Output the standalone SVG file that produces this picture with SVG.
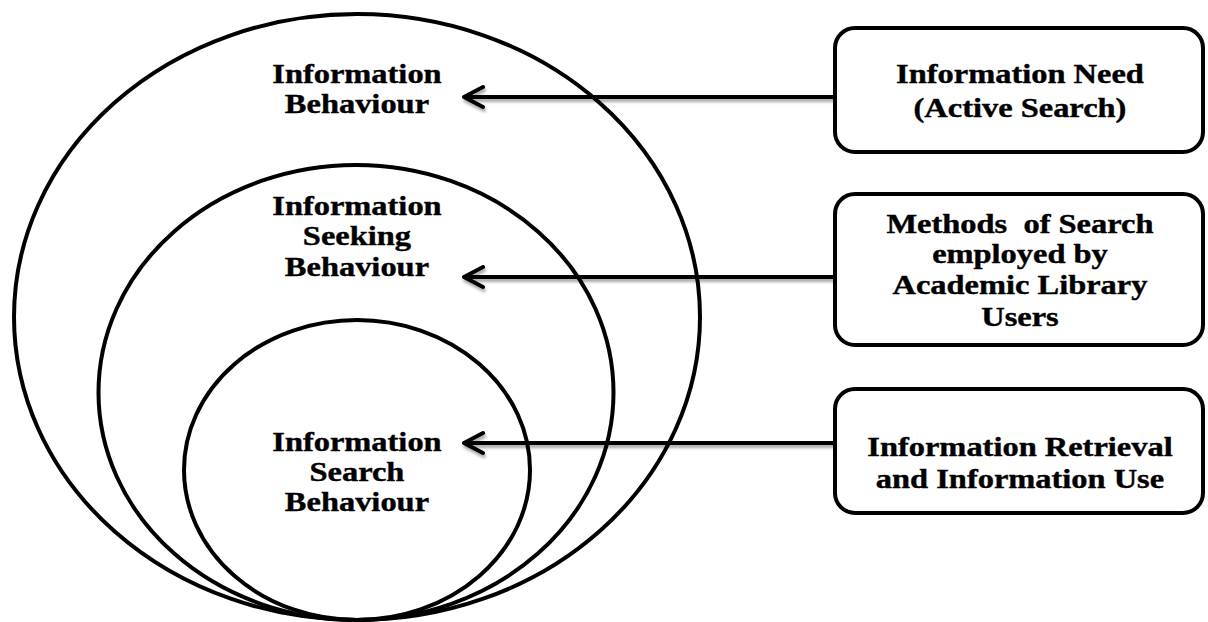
<svg xmlns="http://www.w3.org/2000/svg" width="1208" height="622" viewBox="0 0 1208 622">
<style>
.ring{fill:none;stroke:#000;stroke-width:4}
.box{fill:#fff;stroke:#000;stroke-width:4}
.line{fill:none;stroke:#000;stroke-width:4;stroke-linecap:round;stroke-linejoin:round}
.t{font-family:"Liberation Serif","Times New Roman",serif;font-weight:bold;font-size:27.5px;fill:#000;stroke:#000;stroke-width:0.4;text-anchor:middle}
</style>
<defs>
<filter id="sh" x="-5%" y="-50%" width="110%" height="300%">
<feGaussianBlur in="SourceAlpha" stdDeviation="1.5"/>
<feOffset dx="1" dy="3" result="b"/>
<feComponentTransfer><feFuncA type="linear" slope="0.35"/></feComponentTransfer>
<feMerge><feMergeNode/><feMergeNode in="SourceGraphic"/></feMerge>
</filter>
</defs>
<rect width="1208" height="622" fill="#fff"/>
<g id="ring-behaviour">
<ellipse class="ring" cx="357" cy="317" rx="343" ry="303"/>
<text class="t" transform="scale(1.18,1)"><tspan x="302.5" y="83">Information</tspan><tspan x="302.5" y="113">Behaviour</tspan></text>
</g>
<g id="ring-seeking">
<ellipse class="ring" cx="356" cy="392.5" rx="257.5" ry="227.5"/>
<text class="t" transform="scale(1.18,1)"><tspan x="302.5" y="215">Information</tspan><tspan x="302.5" y="245.5">Seeking</tspan><tspan x="302.5" y="276">Behaviour</tspan></text>
</g>
<g id="ring-search">
<ellipse class="ring" cx="357" cy="470" rx="173" ry="150"/>
<text class="t" transform="scale(1.18,1)"><tspan x="302.5" y="451">Information</tspan><tspan x="302.5" y="481">Search</tspan><tspan x="302.5" y="511">Behaviour</tspan></text>
</g>
<g id="connectors" filter="url(#sh)">
<path class="line" d="M835 97 H464 M483 87 L464 97 L483 107"/>
<path class="line" d="M835 277 H464 M483 267 L464 277 L483 287"/>
<path class="line" d="M835 443 H464 M483 433 L464 443 L483 453"/>
</g>
<g id="box-need">
<rect class="box" x="835" y="28" width="368" height="124" rx="20"/>
<text class="t" transform="scale(1.18,1)"><tspan x="864.4" y="83">Information Need</tspan><tspan x="864.4" y="117">(Active Search)</tspan></text>
</g>
<g id="box-methods">
<rect class="box" x="835" y="194" width="368" height="151" rx="20"/>
<text class="t" transform="scale(1.18,1)" xml:space="preserve"><tspan x="864.4" y="233">Methods  of Search</tspan><tspan x="864.4" y="263.5">employed by</tspan><tspan x="864.4" y="294">Academic Library</tspan><tspan x="864.4" y="326">Users</tspan></text>
</g>
<g id="box-retrieval">
<rect class="box" x="835" y="389" width="368" height="124" rx="20"/>
<text class="t" transform="scale(1.18,1)"><tspan x="864.4" y="456">Information Retrieval</tspan><tspan x="864.4" y="488">and Information Use</tspan></text>
</g>
</svg>
